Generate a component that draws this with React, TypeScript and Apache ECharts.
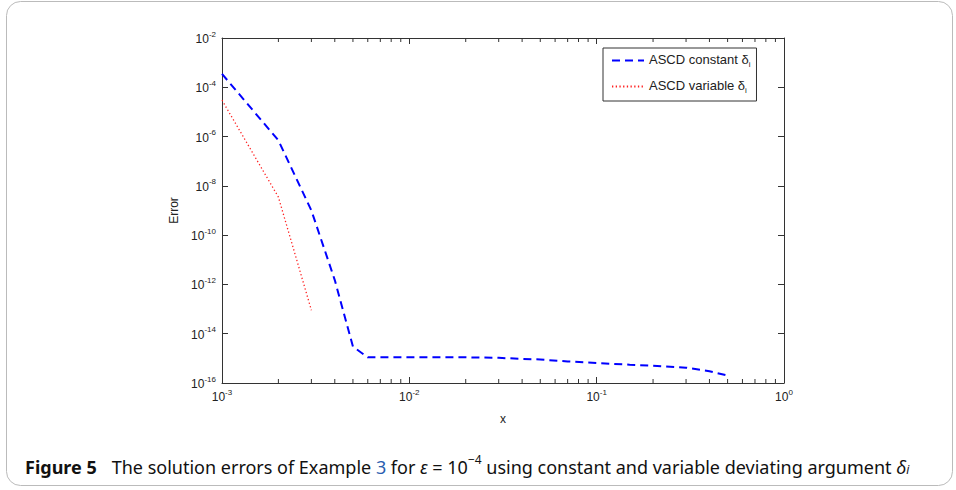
import React, { useEffect, useRef } from "react";
import * as echarts from "echarts";

const constantX = [0.001, 0.002, 0.003, 0.004, 0.005, 0.006, 0.008, 0.01, 0.02, 0.03, 0.04, 0.05, 0.07, 0.1, 0.15, 0.2, 0.3, 0.4, 0.5];
const constantErr = [3.5e-4, 7e-7, 1e-9, 1.5e-12, 3e-15, 1.1e-15, 1.1e-15, 1.1e-15, 1.1e-15, 1.05e-15, 9.5e-16, 9e-16, 7.5e-16, 6.5e-16, 5.5e-16, 5e-16, 4.2e-16, 3e-16, 2e-16];
const variableX = [0.001, 0.002, 0.003];
const variableErr = [3e-5, 3.5e-9, 9e-14];
const minorTicksX = [0.002, 0.003, 0.004, 0.005, 0.006, 0.007, 0.008, 0.009, 0.02, 0.03, 0.04, 0.05, 0.06, 0.07, 0.08, 0.09, 0.2, 0.3, 0.4, 0.5, 0.6, 0.7, 0.8, 0.9];
const legendNames = ["ASCD constant", "ASCD variable"];

const FONT = "Liberation Sans, Arial, sans-serif";
const CAP_FONT = "Noto Sans, Open Sans, sans-serif";
const X_MIN = 0.001, X_MAX = 1, Y_MIN = 1e-16, Y_MAX = 1e-2;

export default function App() {
  const ref = useRef<HTMLDivElement>(null);
  useEffect(() => {
    const chart = echarts.init(ref.current!, null, { renderer: "svg" });
    const powLabel = (v: number) => `{b|10}{s|${Math.round(Math.log10(v))}}`;
    const labelRich = {
      b: { fontSize: 12, fontFamily: FONT, color: "#222", verticalAlign: "bottom", lineHeight: 14 },
      s: { fontSize: 8, fontFamily: FONT, color: "#222", verticalAlign: "bottom", lineHeight: 8, padding: [0, 0, 7, 0] },
    };
    const axisCommon = {
      type: "log",
      logBase: 10,
      splitLine: { show: false },
      axisLine: { show: true, lineStyle: { color: "#333", width: 1 } },
      axisTick: { show: true, inside: true, length: 6, lineStyle: { color: "#333" } },
      minorTick: { show: false },
    };
    const option: any = {
      animation: false,
      backgroundColor: "#fff",
      grid: { left: 222, right: 172, top: 38, bottom: 107 },
      xAxis: [
        {
          ...axisCommon, position: "bottom", min: X_MIN, max: X_MAX, interval: 1,
          axisLabel: { formatter: powLabel, rich: labelRich, margin: 6 },
          name: "x", nameLocation: "middle", nameGap: 30,
          nameTextStyle: { fontFamily: FONT, fontSize: 12, color: "#222" },
        },
        { ...axisCommon, position: "top", min: X_MIN, max: X_MAX, interval: 1, axisLabel: { show: false } },
      ],
      yAxis: [
        {
          ...axisCommon, position: "left", min: Y_MIN, max: Y_MAX, interval: 2,
          axisLabel: { formatter: powLabel, rich: labelRich, margin: 6 },
          name: "Error", nameLocation: "middle", nameGap: 35, nameRotate: 90,
          nameTextStyle: { fontFamily: FONT, fontSize: 12, color: "#222" },
        },
        { ...axisCommon, position: "right", min: Y_MIN, max: Y_MAX, interval: 2, axisLabel: { show: false } },
      ],
      legend: {
        data: legendNames,
        orient: "vertical",
        left: 603,
        top: 48,
        padding: [5, 6, 7, 8],
        itemGap: 11,
        itemWidth: 32,
        itemHeight: 12,
        backgroundColor: "#fff",
        borderColor: "#333",
        borderWidth: 1,
        borderRadius: 0,
        itemStyle: { opacity: 0 },
        formatter: (n: string) => `{t|${n} δ}{sub|i}`,
        textStyle: {
          rich: {
            t: { fontSize: 13, fontFamily: FONT, color: "#222", verticalAlign: "top", lineHeight: 15 },
            sub: { fontSize: 8, fontFamily: FONT, color: "#222", verticalAlign: "top", lineHeight: 9, padding: [7, 0, 0, 0] },
          },
        },
      },
      series: [
        {
          name: legendNames[0], type: "line", symbol: "none", showSymbol: false,
          data: constantX.map((x, i) => [x, constantErr[i]]),
          lineStyle: { color: "#0000ff", width: 2, type: [8, 5] },
          itemStyle: { color: "#0000ff" },
        },
        {
          name: legendNames[1], type: "line", symbol: "none", showSymbol: false,
          data: variableX.map((x, i) => [x, variableErr[i]]),
          lineStyle: { color: "#ff2020", width: 1.3, type: [1.3, 2.4] },
          itemStyle: { color: "#ff2020" },
        },
        {
          name: "minorTicks", type: "custom", silent: true,
          data: minorTicksX.map((x) => [x, Y_MIN]),
          renderItem: (_p: any, api: any) => {
            const x = api.value(0);
            const b = api.coord([x, Y_MIN]);
            const t = api.coord([x, Y_MAX]);
            const st = { stroke: "#333", lineWidth: 1 };
            return {
              type: "group",
              children: [
                { type: "line", shape: { x1: b[0], y1: b[1], x2: b[0], y2: b[1] - 4 }, style: st },
                { type: "line", shape: { x1: t[0], y1: t[1], x2: t[0], y2: t[1] + 4 }, style: st },
              ],
            };
          },
        },
      ],
      graphic: [
        {
          type: "rect", shape: { x: 6.5, y: 1.5, width: 946, height: 484, r: 14 },
          style: { fill: "none", stroke: "#bbb", lineWidth: 1 }, silent: true,
        },
        {
          type: "text", left: 25, top: 453,
          style: {
            text: "{b|Figure 5}{n|The solution errors of Example }{l|3}{n| for }{i|ε}{n| = 10}{sup|−4}{n| using constant and variable deviating argument }{i|δ}{isub|i}",
            rich: {
              b: { fontFamily: CAP_FONT, fontSize: 18, fontWeight: "bold", fill: "#111", verticalAlign: "bottom", lineHeight: 22, padding: [0, 15, 0, 0] },
              n: { fontFamily: CAP_FONT, fontSize: 18, fill: "#111", verticalAlign: "bottom", lineHeight: 22 },
              l: { fontFamily: CAP_FONT, fontSize: 18, fill: "#2a5db0", verticalAlign: "bottom", lineHeight: 22 },
              i: { fontFamily: CAP_FONT, fontSize: 18, fontStyle: "italic", fill: "#111", verticalAlign: "bottom", lineHeight: 22 },
              sup: { fontFamily: CAP_FONT, fontSize: 12, fill: "#111", verticalAlign: "bottom", lineHeight: 12, padding: [0, 0, 11, 0] },
              isub: { fontFamily: CAP_FONT, fontSize: 12, fontStyle: "italic", fill: "#111", verticalAlign: "bottom", lineHeight: 12, padding: [0, 0, 1, 0] },
            },
          },
        },
      ],
    };
    chart.setOption(option);
    return () => chart.dispose();
  }, []);
  return <div ref={ref} style={{ width: 956, height: 490, position: "absolute", left: 0, top: 0 }} />;
}
